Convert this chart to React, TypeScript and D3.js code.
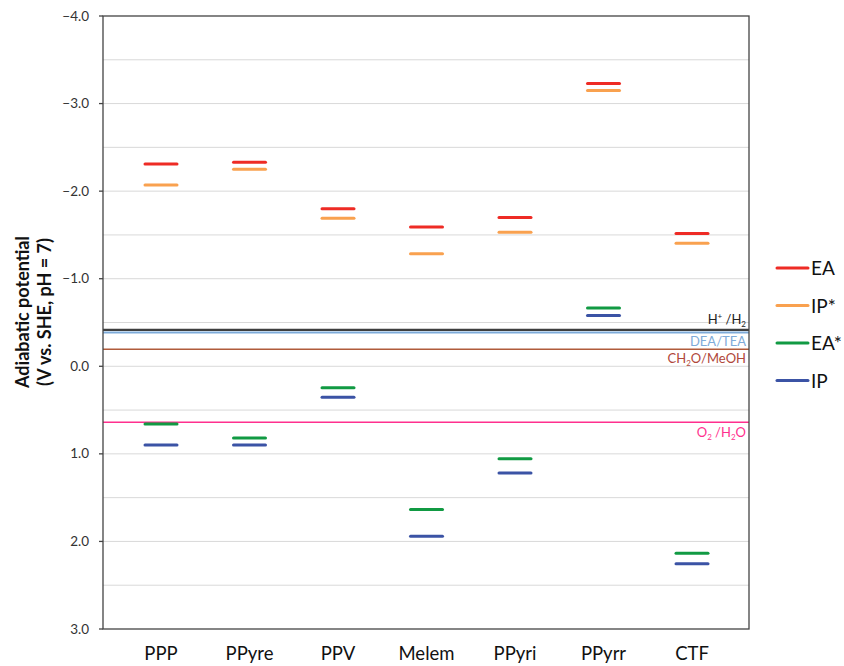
import React from "react";
import * as d3 from "d3";

const categories = ["PPP", "PPyre", "PPV", "Melem", "PPyri", "PPyrr", "CTF"];
const EA = [-2.31, -2.33, -1.80, -1.59, -1.70, -3.23, -1.515];
const IPstar = [-2.07, -2.25, -1.69, -1.285, -1.53, -3.15, -1.405];
const EAstar = [0.66, 0.82, 0.245, 1.635, 1.055, -0.665, 2.135];
const IP = [0.90, 0.90, 0.355, 1.94, 1.22, -0.58, 2.255];
const yTicks = [-4, -3, -2, -1, 0, 1, 2, 3];
const gridValues = [-3.5, -3, -2.5, -2, -1.5, -1, -0.5, 0, 0.5, 1, 1.5, 2, 2.5];

const refLines = [
  { name: "H+/H2", value: -0.415, color: "#3f3f3f", width: 2.2, textColor: "#222" },
  { name: "DEA/TEA", value: -0.385, color: "#7eabd9", width: 2, textColor: "#7eabd9" },
  { name: "CH2O/MeOH", value: -0.195, color: "#b05b3b", width: 1.5, textColor: "#b0473a" },
  { name: "O2/H2O", value: 0.64, color: "#ff2f8e", width: 1.5, textColor: "#ff2f8e" },
];

const series = [
  { name: "EA", values: EA, color: "#ee2b25" },
  { name: "IP*", values: IPstar, color: "#f9a14f" },
  { name: "EA*", values: EAstar, color: "#119a43" },
  { name: "IP", values: IP, color: "#3b53a5" },
];

const W = 844;
const H = 666;
const left = 103;
const right = 749;
const top = 16;
const bottom = 629;
const font = "Lato, 'Open Sans', sans-serif";

export default function App() {
  const y = d3.scaleLinear().domain([-4, 3]).range([top, bottom]);
  const x = d3.scalePoint<string>().domain(categories).range([161, 692]);
  const barHalf = 16;

  const renderLabel = (name: string) => {
    if (name === "H+/H2")
      return (
        <>
          H<tspan dy={-5} fontSize={8}>+</tspan>
          <tspan dy={5}> /H</tspan>
          <tspan dy={3} fontSize={8}>2</tspan>
        </>
      );
    if (name === "CH2O/MeOH")
      return (
        <>
          CH<tspan dy={3} fontSize={8}>2</tspan>
          <tspan dy={-3}>O/MeOH</tspan>
        </>
      );
    if (name === "O2/H2O")
      return (
        <>
          O<tspan dy={3} fontSize={8}>2</tspan>
          <tspan dy={-3}> /H</tspan>
          <tspan dy={3} fontSize={8}>2</tspan>
          <tspan dy={-3}>O</tspan>
        </>
      );
    return name;
  };

  const labelOffset: Record<string, number> = {
    "H+/H2": -6,
    "DEA/TEA": 13,
    "CH2O/MeOH": 14,
    "O2/H2O": 15,
  };

  return (
    <svg width={W} height={H} style={{ position: "absolute", left: 0, top: 0, background: "#fff" }} fontFamily={font}>
      <rect x={0} y={0} width={W} height={H} fill="#fff" />
      {gridValues.map((v) => (
        <line key={v} x1={left} x2={right} y1={y(v)} y2={y(v)} stroke="#d9d9d9" strokeWidth={1} />
      ))}
      {refLines.map((r) => (
        <g key={r.name}>
          <line x1={left} x2={right} y1={y(r.value)} y2={y(r.value)} stroke={r.color} strokeWidth={r.width} />
          <text
            x={right - 3}
            y={y(r.value) + labelOffset[r.name]}
            textAnchor="end"
            fontSize={13}
            fill={r.textColor}
          >
            {renderLabel(r.name)}
          </text>
        </g>
      ))}
      <rect x={left} y={top} width={right - left} height={bottom - top} fill="none" stroke="#444" strokeWidth={1.3} />
      {yTicks.map((t) => (
        <g key={t}>
          <line x1={left - 4} x2={left} y1={y(t)} y2={y(t)} stroke="#444" strokeWidth={1.3} />
          <text x={89} y={y(t) + 4.5} textAnchor="end" fontSize={13.5} fill="#333">
            {d3.format(".1f")(t)}
          </text>
        </g>
      ))}
      <g transform={`translate(29, 312) rotate(-90)`}>
        <text x={0} y={0} textAnchor="middle" fontSize={18} fontWeight="bold" fill="#111">
          Adiabatic potential
        </text>
        <text x={0} y={22} textAnchor="middle" fontSize={18} fontWeight="bold" fill="#111">
          (V vs. SHE, pH = 7)
        </text>
      </g>
      {categories.map((c) => (
        <text key={c} x={x(c)} y={660} textAnchor="middle" fontSize={18.5} fill="#111">
          {c}
        </text>
      ))}
      {series.map((s) =>
        s.values.map((v, i) => (
          <line
            key={s.name + i}
            x1={(x(categories[i]) as number) - barHalf}
            x2={(x(categories[i]) as number) + barHalf}
            y1={y(v)}
            y2={y(v)}
            stroke={s.color}
            strokeWidth={3}
            strokeLinecap="round"
          />
        ))
      )}
      {series.map((s, i) => {
        const ly = 268 + i * 37.5;
        return (
          <g key={s.name}>
            <line x1={777} x2={808} y1={ly} y2={ly} stroke={s.color} strokeWidth={3} strokeLinecap="round" />
            <text x={811} y={ly + 7} fontSize={19} fill="#111">
              {s.name}
            </text>
          </g>
        );
      })}
    </svg>
  );
}
